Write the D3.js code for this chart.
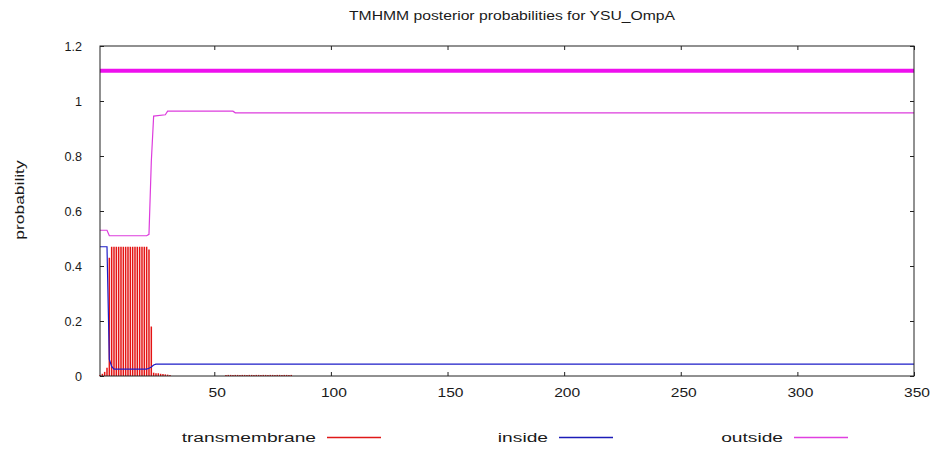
<!DOCTYPE html>
<html>
<head>
<meta charset="utf-8">
<script src="https://cdn.jsdelivr.net/npm/d3@7"></script>
<style>
  body { margin: 0; background: #fff; }
  text { font-family: "Liberation Sans", Arial, sans-serif; fill: #1a1a1a; }
</style>
</head>
<body>
<div id="chart"></div>
<script>
// posterior probabilities
var tmPos = [1, 2, 3, 4, 5, 6, 7, 8, 9, 10, 11, 12, 13, 14, 15, 16, 17, 18, 19, 20, 21, 22, 23, 24, 25, 26, 27, 28, 29, 30, 31,
             55, 56, 57, 58, 59, 60, 61, 62, 63, 64, 65, 66, 67, 68, 69, 70, 71, 72, 73, 74, 75, 76, 77, 78, 79, 80, 81, 82, 83];
var tmVal = [0.004, 0.008, 0.015, 0.03, 0.43, 0.47, 0.47, 0.47, 0.47, 0.47, 0.47, 0.47, 0.47, 0.47, 0.47, 0.47, 0.47, 0.47, 0.47, 0.47, 0.47, 0.46, 0.18, 0.012, 0.01, 0.01, 0.008, 0.007, 0.006, 0.005, 0.004,
             0.004, 0.004, 0.004, 0.004, 0.004, 0.004, 0.004, 0.004, 0.004, 0.004, 0.004, 0.004, 0.004, 0.004, 0.004, 0.004, 0.004, 0.004, 0.004, 0.004, 0.004, 0.004, 0.004, 0.004, 0.004, 0.004, 0.004, 0.004, 0.004];

var insidePos = [1, 4, 5, 6, 7, 20, 21, 22, 23, 24, 25, 350];
var insideVal = [0.47, 0.47, 0.06, 0.035, 0.025, 0.025, 0.025, 0.028, 0.033, 0.04, 0.043, 0.043];

var outsidePos = [1, 4, 5, 21, 22, 23, 24, 29, 30, 58, 59, 350];
var outsideVal = [0.53, 0.53, 0.51, 0.51, 0.515, 0.78, 0.945, 0.95, 0.963, 0.963, 0.957, 0.957];

var topoPos = [1, 350];
var topoVal = [1.11, 1.11];

var xTicks = [50, 100, 150, 200, 250, 300, 350];
var yTicks = [0, 0.2, 0.4, 0.6, 0.8, 1, 1.2];

var legendNames = ["transmembrane", "inside", "outside"];
var legendColors = ["#e01818", "#1c1cb8", "#e040e0"];

var margin = {top: 46, right: 21, bottom: 74, left: 100};
var width = 935 - margin.left - margin.right,
    height = 450 - margin.top - margin.bottom;

var root = d3.select("#chart").append("svg")
    .attr("width", 935)
    .attr("height", 450);

var svg = root.append("g")
    .attr("transform", "translate(" + margin.left + "," + margin.top + ")");

var xScale = d3.scaleLinear().domain([1, 350]).range([0, width]);
var yScale = d3.scaleLinear().domain([0, 1.2]).range([height, 0]);

// stretched text helper (the source font is wide)
function label(g, x, y, str, anchor, sx, rot, size) {
    g.append("text")
        .attr("transform", "translate(" + x + "," + y + ")" + (rot ? " rotate(" + rot + ")" : "") + " scale(" + sx + ",1)")
        .attr("text-anchor", anchor)
        .style("font-size", (size || 12) + "px")
        .text(str);
}

// inward ticks on all four sides
var yAxisL = d3.axisLeft(yScale).tickValues(yTicks).tickSize(-4).tickFormat("");
var yAxisR = d3.axisRight(yScale).tickValues(yTicks).tickSize(-4).tickFormat("");
var xAxisB = d3.axisBottom(xScale).tickValues(xTicks).tickSize(-4).tickFormat("");
var xAxisT = d3.axisTop(xScale).tickValues(xTicks).tickSize(-4).tickFormat("");

svg.append("g").call(yAxisL);
svg.append("g").attr("transform", "translate(" + width + ",0)").call(yAxisR);
svg.append("g").attr("transform", "translate(0," + height + ")").call(xAxisB);
svg.append("g").call(xAxisT);
svg.selectAll(".domain").remove();
svg.selectAll(".tick line").attr("stroke", "#222");

// tick labels
yTicks.forEach(function(t) {
    label(svg, -18, yScale(t) + 4.5, d3.format("")(t), "end", 1.05);
});
xTicks.forEach(function(t) {
    label(svg, xScale(t) + 3, height + 21, t, "middle", 1.3);
});

// transmembrane impulses
svg.append("g").selectAll("line")
    .data(tmPos)
    .enter().append("line")
    .attr("x1", function(d) { return xScale(d); })
    .attr("x2", function(d) { return xScale(d); })
    .attr("y1", yScale(0))
    .attr("y2", function(d, i) { return yScale(tmVal[i]); })
    .attr("stroke", "#e41414")
    .attr("stroke-width", 1.5);

var line = d3.line()
    .x(function(d) { return xScale(d[0]); })
    .y(function(d) { return yScale(d[1]); });

svg.append("path")
    .datum(d3.zip(insidePos, insideVal))
    .attr("fill", "none")
    .attr("stroke", "#1c1cc8")
    .attr("stroke-width", 1.2)
    .attr("d", line);

svg.append("path")
    .datum(d3.zip(outsidePos, outsideVal))
    .attr("fill", "none")
    .attr("stroke", "#dd3cdd")
    .attr("stroke-width", 1.2)
    .attr("d", line);

svg.append("path")
    .datum(d3.zip(topoPos, topoVal))
    .attr("fill", "none")
    .attr("stroke", "#ee10ee")
    .attr("stroke-width", 4)
    .attr("d", line);

// frame
svg.append("rect")
    .attr("width", width)
    .attr("height", height)
    .attr("fill", "none")
    .attr("stroke", "#222")
    .attr("stroke-width", 1);

// title and y label
label(root, 512, 20, "TMHMM posterior probabilities for YSU_OmpA", "middle", 1.31);
label(root, 24, 200, "probability", "middle", 1.45, -90);

// legend
var legendText = [316, 548, 783];
legendNames.forEach(function(n, i) {
    label(root, legendText[i], 442, n, "end", 1.6);
    root.append("line")
        .attr("x1", legendText[i] + 11)
        .attr("x2", legendText[i] + 65)
        .attr("y1", 437.5)
        .attr("y2", 437.5)
        .attr("stroke", legendColors[i])
        .attr("stroke-width", 1.3);
});
</script>
</body>
</html>
